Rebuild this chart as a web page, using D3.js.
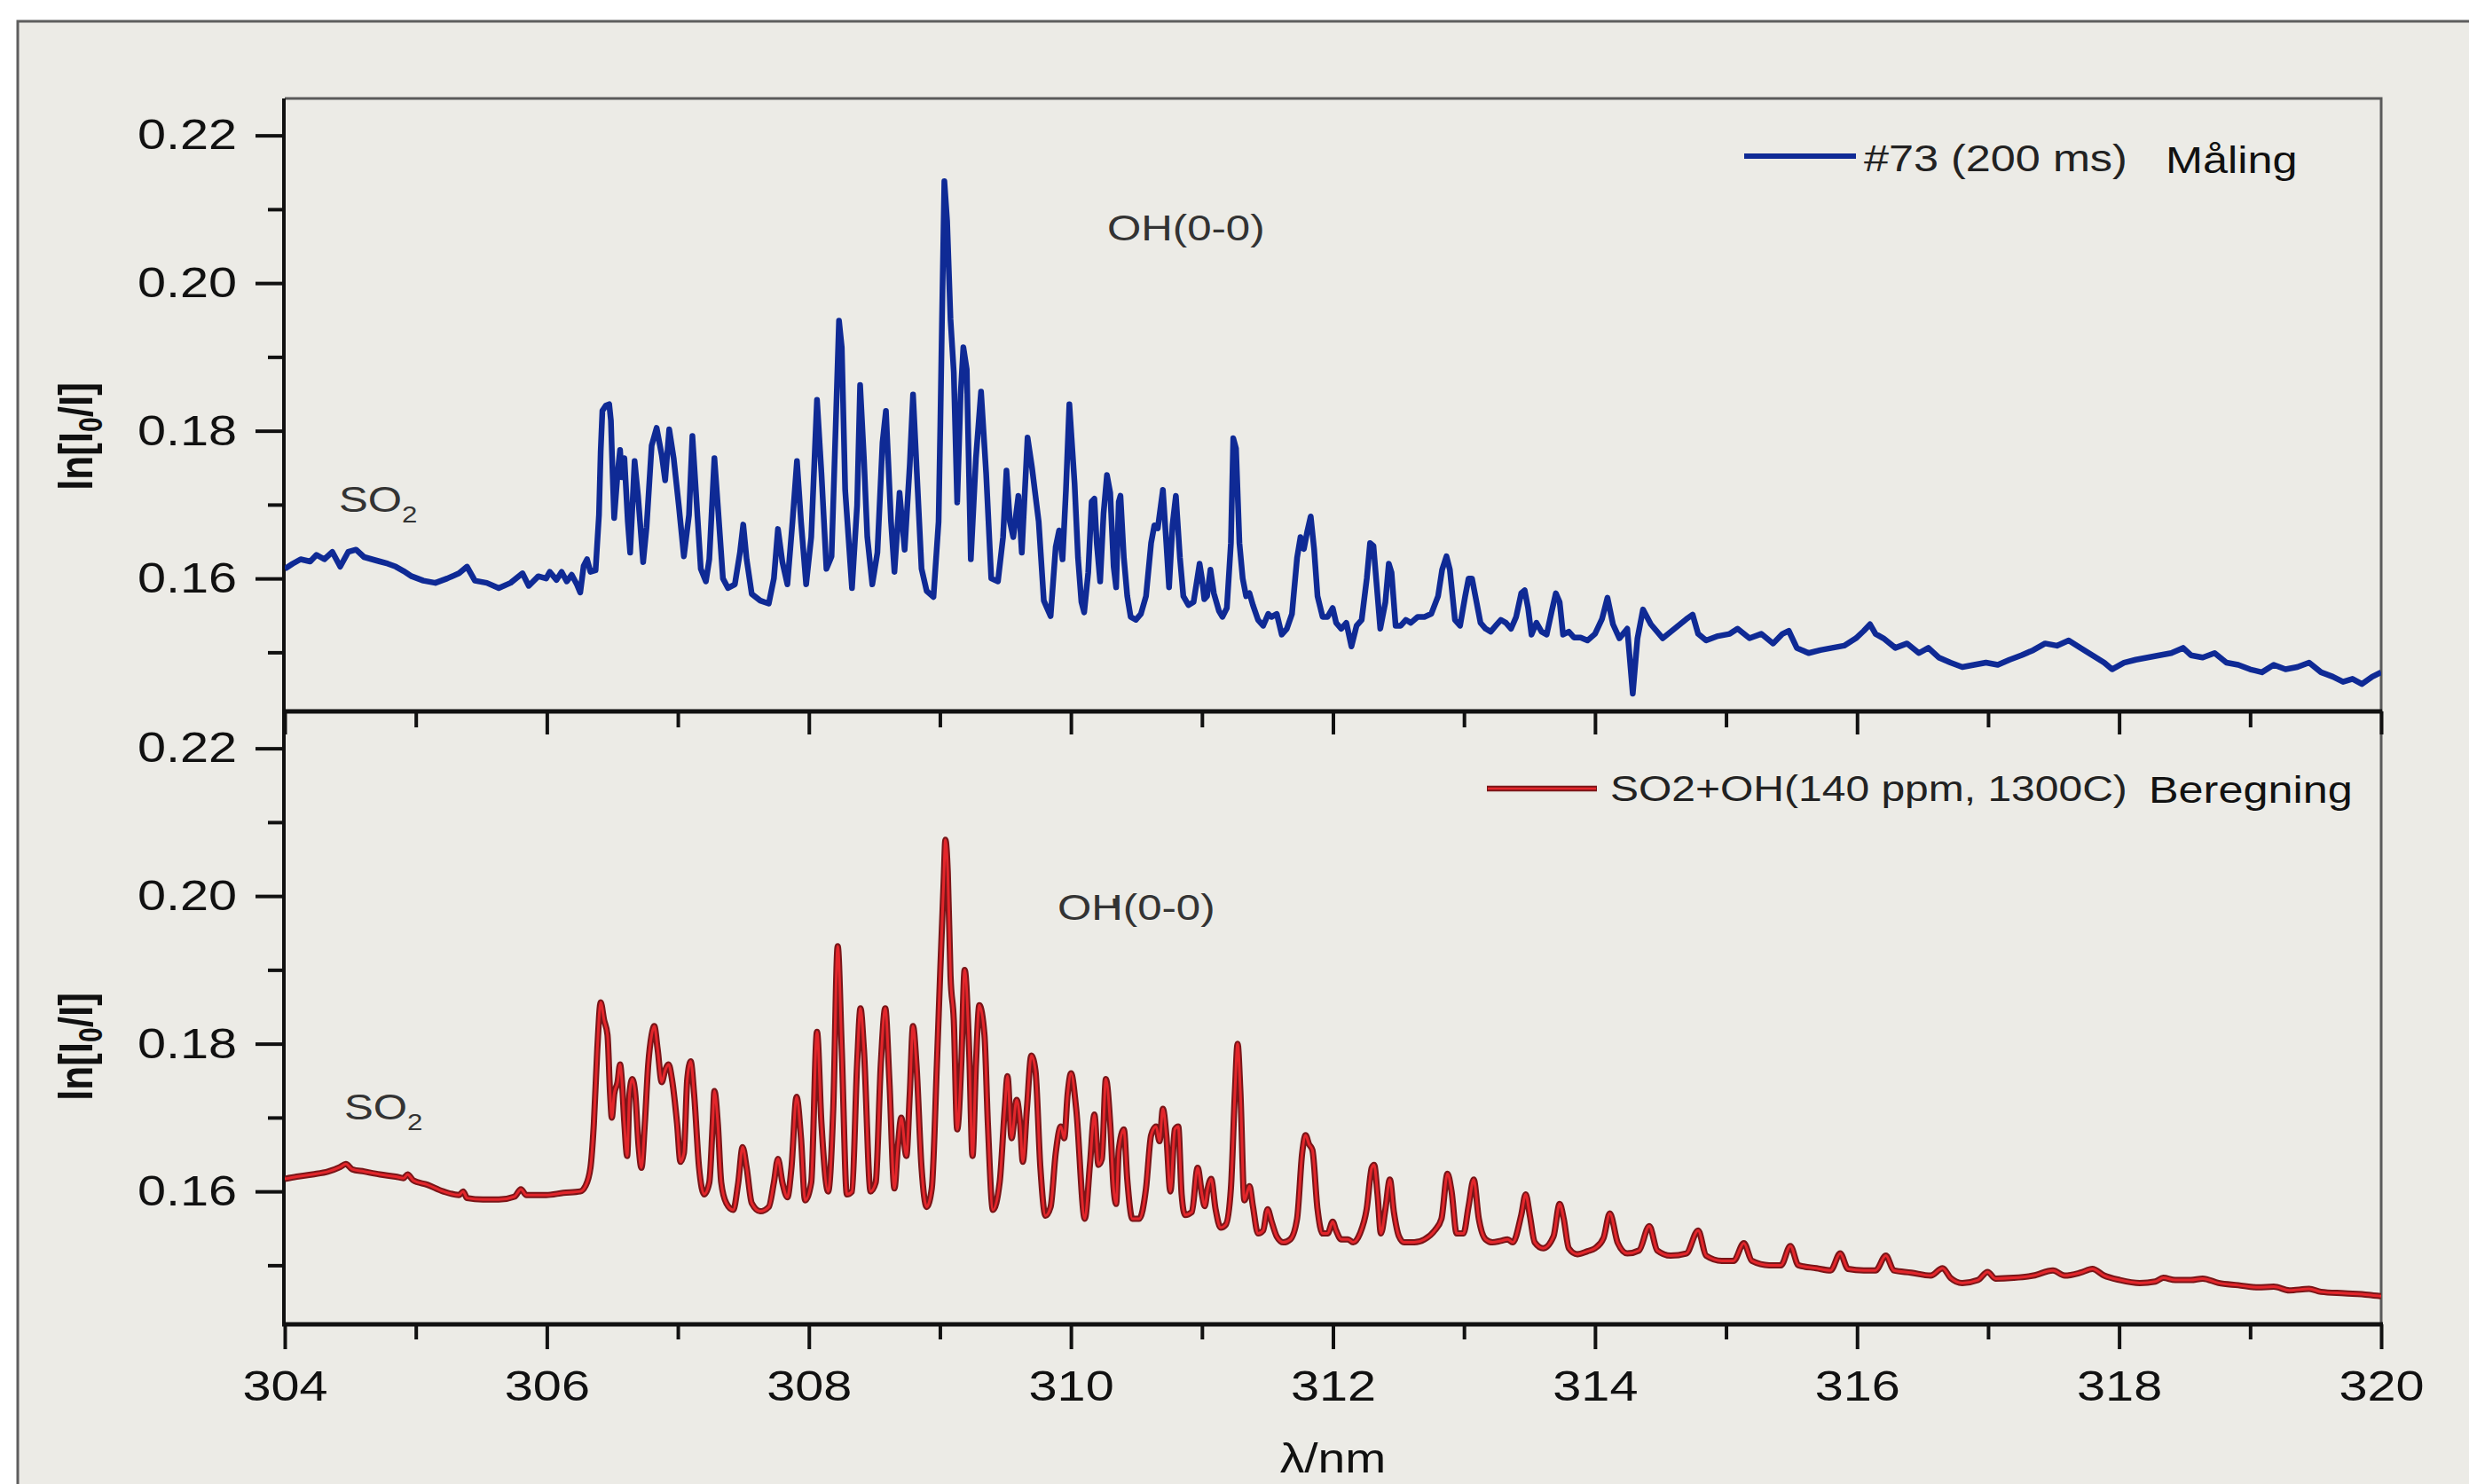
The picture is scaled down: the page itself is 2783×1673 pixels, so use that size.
<!DOCTYPE html>
<html><head><meta charset="utf-8">
<script src="https://cdn.jsdelivr.net/npm/d3@7"></script>
<style>
html,body{margin:0;padding:0;background:#fff;}
svg{display:block;}
text{font-family:"Liberation Sans",Arial,Helvetica,sans-serif;}
</style>
</head><body>
<svg id="chart" width="2783" height="1673"></svg>
<script>
// ---------- DATA ----------
const xMajorTicks = [304,306,308,310,312,314,316,318,320];
const xMinorTicks = [305,307,309,311,313,315,317,319];
const yMajorTicks = [0.16,0.18,0.20,0.22];
const yMinorTicks = [0.15,0.17,0.19,0.21];
const xDomain = [304,320];
const yDomain = [0.142,0.225];

const measuredLabel = "#73 (200 ms)";
const measuredTag = "Måling";
const calculatedLabel = "SO2+OH(140 ppm, 1300C)";
const calculatedTag = "Beregning";
const xTitle = "λ/nm";

// measured spectrum [wavelength nm, ln(I0/I)]
const measuredSeries = [
[304.000,0.1613],[304.060,0.1620],[304.121,0.1626],[304.194,0.1623],[304.242,0.1632],[304.302,0.1626],[304.363,0.1636],[304.423,0.1616],[304.484,0.1636],[304.544,0.1639],[304.605,0.1629],[304.665,0.1626],[304.726,0.1623],[304.786,0.1620],[304.847,0.1616],[304.907,0.1610],[304.968,0.1603],[305.058,0.1597],[305.149,0.1594],[305.240,0.1600],[305.330,0.1607],[305.391,0.1616],[305.451,0.1597],[305.542,0.1594],[305.633,0.1587],[305.723,0.1594],[305.814,0.1607],[305.862,0.1590],[305.935,0.1603],[305.995,0.1600],
[306.022,0.1609],[306.074,0.1598],[306.113,0.1609],[306.152,0.1596],[306.190,0.1605],[306.229,0.1592],[306.255,0.1581],[306.281,0.1617],[306.307,0.1626],[306.333,0.1609],[306.372,0.1611],[306.398,0.1686],[306.411,0.1772],[306.424,0.1827],[306.450,0.1834],[306.476,0.1836],[306.489,0.1814],[306.502,0.1742],[306.514,0.1682],[306.540,0.1742],[306.559,0.1774],[306.572,0.1737],[306.592,0.1763],[306.618,0.1677],[306.636,0.1635],[306.670,0.1759],[306.696,0.1712],[306.735,0.1622],[306.761,0.1669],[306.800,0.1780],[306.838,0.1804],[306.877,0.1767],[306.903,0.1733],[306.934,0.1802],[306.968,0.1763],[307.007,0.1699],[307.046,0.1630],[307.085,0.1686],[307.111,0.1793],[307.137,0.1720],[307.175,0.1613],[307.214,0.1596],[307.240,0.1626],[307.279,0.1763],[307.305,0.1699],[307.344,0.1600],[307.383,0.1587],[307.435,0.1592],[307.474,0.1635],[307.499,0.1673],[307.525,0.1626],[307.564,0.1579],[307.629,0.1570],[307.694,0.1566],[307.733,0.1600],[307.764,0.1667],[307.798,0.1622],[307.836,0.1592],[307.875,0.1677],[307.909,0.1759],[307.940,0.1677],[307.979,0.1592],[308.018,0.1656],[308.062,0.1842],[308.096,0.1742],[308.134,0.1613],[308.173,0.1630],[308.194,0.1746],[308.230,0.1949],[308.251,0.1913],[308.277,0.1720],[308.329,0.1587],[308.368,0.1699],[308.391,0.1862],[308.420,0.1763],[308.446,0.1656],[308.484,0.1592],[308.523,0.1635],[308.562,0.1784],[308.588,0.1827],[308.627,0.1677],[308.653,0.1609],[308.679,0.1677],[308.692,0.1716],[308.731,0.1639],[308.770,0.1754],[308.795,0.1849],[308.821,0.1754],[308.860,0.1613],[308.899,0.1583],[308.951,0.1575],[308.990,0.1677],[309.003,0.1806],[309.016,0.1951],[309.034,0.2138],[309.055,0.2084],[309.081,0.1951],[309.106,0.1879],[309.132,0.1703],[309.158,0.1849],[309.179,0.1913],[309.205,0.1883],[309.236,0.1626],[309.275,0.1763],[309.314,0.1853],[309.353,0.1742],[309.392,0.1600],[309.443,0.1596],[309.482,0.1656],[309.508,0.1746],[309.534,0.1677],[309.560,0.1656],[309.599,0.1712],[309.625,0.1635],[309.669,0.1791],[309.703,0.1750],[309.754,0.1677],[309.793,0.1570],[309.845,0.1549],[309.884,0.1643],[309.910,0.1665],[309.936,0.1626],[309.962,0.1720],[309.988,0.1836],
[310.028,0.1728],[310.054,0.1628],[310.080,0.1568],[310.101,0.1554],[310.132,0.1608],[310.158,0.1704],[310.179,0.1708],[310.197,0.1648],[310.223,0.1596],[310.249,0.1688],[310.275,0.1740],[310.300,0.1716],[310.326,0.1616],[310.345,0.1588],[310.365,0.1704],[310.378,0.1712],[310.404,0.1628],[310.430,0.1576],[310.456,0.1548],[310.495,0.1544],[310.534,0.1552],[310.573,0.1576],[310.612,0.1648],[310.637,0.1672],[310.663,0.1668],[310.702,0.1720],[310.728,0.1648],[310.749,0.1588],[310.775,0.1672],[310.801,0.1712],[310.832,0.1628],[310.858,0.1576],[310.897,0.1564],[310.936,0.1568],[310.961,0.1596],[310.982,0.1620],[311.000,0.1600],[311.018,0.1572],[311.039,0.1576],[311.065,0.1612],[311.091,0.1580],[311.130,0.1556],[311.156,0.1548],[311.190,0.1560],[311.221,0.1648],[311.239,0.1790],[311.260,0.1776],[311.286,0.1648],[311.311,0.1600],[311.337,0.1576],[311.363,0.1580],[311.389,0.1564],[311.428,0.1544],[311.467,0.1536],[311.506,0.1552],[311.532,0.1548],[311.571,0.1552],[311.609,0.1524],[311.648,0.1532],[311.687,0.1552],[311.726,0.1628],[311.752,0.1656],[311.778,0.1640],[311.804,0.1664],[311.830,0.1684],[311.856,0.1640],[311.882,0.1576],[311.921,0.1548],[311.959,0.1548],[311.998,0.1560],[312.024,0.1540],[312.063,0.1532],[312.102,0.1540],[312.141,0.1508],[312.180,0.1536],[312.219,0.1544],[312.258,0.1600],[312.283,0.1648],[312.309,0.1644],[312.335,0.1588],[312.361,0.1532],[312.400,0.1568],[312.426,0.1620],[312.447,0.1608],[312.478,0.1536],[312.517,0.1536],[312.556,0.1544],[312.594,0.1540],[312.646,0.1548],[312.698,0.1548],[312.750,0.1552],[312.802,0.1576],[312.833,0.1612],[312.866,0.1630],[312.892,0.1612],[312.931,0.1544],[312.970,0.1536],[313.009,0.1576],[313.035,0.1600],[313.061,0.1600],[313.087,0.1576],[313.126,0.1540],[313.165,0.1532],[313.204,0.1528],[313.242,0.1536],[313.281,0.1544],[313.320,0.1540],[313.359,0.1532],[313.398,0.1548],[313.437,0.1580],[313.463,0.1584],[313.489,0.1560],[313.515,0.1524],[313.553,0.1540],[313.592,0.1528],[313.631,0.1524],[313.670,0.1556],[313.701,0.1580],[313.730,0.1568],[313.756,0.1524],[313.800,0.1528],[313.839,0.1520],[313.890,0.1520],[313.942,0.1516],
[314.000,0.1525],[314.053,0.1545],[314.095,0.1574],[314.137,0.1538],[314.186,0.1519],[314.246,0.1532],[314.288,0.1444],[314.324,0.1519],[314.366,0.1558],[314.426,0.1538],[314.517,0.1519],[314.607,0.1532],[314.697,0.1545],[314.745,0.1551],[314.787,0.1525],[314.848,0.1516],[314.938,0.1522],[315.028,0.1525],[315.088,0.1532],[315.179,0.1519],[315.269,0.1525],[315.359,0.1512],[315.431,0.1525],[315.479,0.1529],[315.540,0.1506],[315.630,0.1499],[315.720,0.1503],[315.810,0.1506],[315.901,0.1509],[315.991,0.1519],[316.051,0.1529],[316.099,0.1538],[316.141,0.1525],[316.201,0.1519],[316.292,0.1506],[316.382,0.1512],[316.472,0.1499],[316.544,0.1506],[316.623,0.1493],[316.713,0.1486],[316.803,0.1480],[316.893,0.1483],[316.984,0.1486],[317.074,0.1483],[317.164,0.1490],[317.254,0.1496],[317.345,0.1503],[317.435,0.1512],[317.525,0.1509],[317.615,0.1516],[317.706,0.1506],[317.796,0.1496],[317.886,0.1486],[317.946,0.1477],[318.037,0.1486],[318.127,0.1490],[318.217,0.1493],[318.307,0.1496],[318.398,0.1499],[318.488,0.1506],[318.548,0.1496],[318.638,0.1493],[318.729,0.1499],[318.819,0.1486],[318.909,0.1483],[318.999,0.1477],[319.090,0.1473],[319.180,0.1483],[319.270,0.1477],[319.360,0.1480],[319.450,0.1486],[319.541,0.1473],[319.631,0.1467],[319.709,0.1460],[319.781,0.1464],[319.853,0.1457],[319.932,0.1467],[320.000,0.1473]
];

// calculated spectrum [wavelength nm, ln(I0/I)]
const calculatedSeries = [
[304.000,0.1617],[304.091,0.1620],[304.212,0.1623],[304.333,0.1627],[304.423,0.1633],[304.466,0.1637],[304.514,0.1630],[304.605,0.1627],[304.726,0.1623],[304.847,0.1620],[304.907,0.1618],[304.937,0.1623],[304.980,0.1615],[305.088,0.1609],[305.209,0.1600],[305.330,0.1595],[305.361,0.1600],[305.391,0.1591],[305.512,0.1589],[305.633,0.1589],[305.754,0.1593],[305.802,0.1603],[305.844,0.1595],[305.995,0.1595],
[306.126,0.1598],[306.255,0.1600],[306.294,0.1607],[306.333,0.1632],[306.359,0.1692],[306.385,0.1792],[306.411,0.1856],[306.437,0.1832],[306.463,0.1812],[306.483,0.1732],[306.496,0.1700],[306.514,0.1732],[306.540,0.1748],[306.559,0.1772],[306.572,0.1752],[306.592,0.1692],[306.613,0.1648],[306.631,0.1732],[306.652,0.1752],[306.675,0.1732],[306.701,0.1660],[306.722,0.1632],[306.748,0.1692],[306.774,0.1772],[306.800,0.1812],[306.820,0.1824],[306.846,0.1792],[306.877,0.1748],[306.903,0.1764],[306.929,0.1772],[306.955,0.1752],[306.994,0.1692],[307.020,0.1640],[307.046,0.1652],[307.072,0.1752],[307.098,0.1776],[307.124,0.1732],[307.162,0.1632],[307.201,0.1596],[307.240,0.1612],[307.266,0.1692],[307.279,0.1736],[307.305,0.1692],[307.331,0.1612],[307.370,0.1584],[307.422,0.1575],[307.461,0.1612],[307.494,0.1660],[307.525,0.1632],[307.564,0.1584],[307.629,0.1573],[307.694,0.1579],[307.733,0.1612],[307.764,0.1644],[307.798,0.1612],[307.836,0.1592],[307.867,0.1632],[307.906,0.1728],[307.940,0.1672],[307.971,0.1588],[308.018,0.1612],[308.062,0.1816],[308.096,0.1692],[308.147,0.1600],[308.186,0.1712],[308.220,0.1932],[308.251,0.1792],[308.290,0.1596],[308.329,0.1600],[308.368,0.1772],[308.394,0.1848],[308.420,0.1792],[308.471,0.1600],[308.510,0.1612],[308.549,0.1772],[308.583,0.1848],[308.614,0.1752],[308.653,0.1604],[308.679,0.1660],[308.705,0.1700],[308.744,0.1648],[308.770,0.1732],[308.795,0.1824],[308.821,0.1772],[308.860,0.1632],[308.899,0.1579],[308.938,0.1604],[308.977,0.1772],[309.003,0.1900],[309.029,0.2020],[309.042,0.2076],[309.060,0.2032],[309.081,0.1892],[309.106,0.1832],[309.132,0.1684],[309.163,0.1772],[309.189,0.1900],[309.223,0.1792],[309.249,0.1648],[309.275,0.1772],[309.301,0.1852],[309.340,0.1812],[309.366,0.1692],[309.405,0.1575],[309.456,0.1612],[309.495,0.1712],[309.516,0.1756],[309.547,0.1672],[309.586,0.1724],[309.612,0.1692],[309.633,0.1640],[309.664,0.1712],[309.698,0.1784],[309.729,0.1764],[309.767,0.1632],[309.806,0.1567],[309.845,0.1579],[309.884,0.1652],[309.923,0.1688],[309.949,0.1672],[309.975,0.1732],[310.001,0.1760],[310.040,0.1712],
[310.106,0.1563],[310.145,0.1636],[310.179,0.1704],[310.210,0.1636],[310.236,0.1644],[310.267,0.1752],[310.300,0.1692],[310.326,0.1604],[310.345,0.1583],[310.365,0.1656],[310.404,0.1684],[310.430,0.1616],[310.469,0.1563],[310.521,0.1563],[310.573,0.1604],[310.612,0.1676],[310.650,0.1688],[310.676,0.1668],[310.702,0.1712],[310.728,0.1676],[310.759,0.1600],[310.793,0.1684],[310.819,0.1688],[310.845,0.1596],[310.871,0.1568],[310.923,0.1572],[310.967,0.1632],[311.000,0.1596],[311.021,0.1580],[311.044,0.1604],[311.070,0.1617],[311.104,0.1576],[311.143,0.1551],[311.182,0.1555],[311.221,0.1604],[311.252,0.1736],[311.272,0.1800],[311.293,0.1736],[311.324,0.1588],[311.363,0.1607],[311.389,0.1580],[311.428,0.1543],[311.467,0.1547],[311.501,0.1576],[311.532,0.1559],[311.571,0.1539],[311.622,0.1531],[311.674,0.1535],[311.726,0.1563],[311.765,0.1652],[311.791,0.1676],[311.817,0.1664],[311.843,0.1656],[311.882,0.1576],[311.921,0.1543],[311.959,0.1543],[311.998,0.1559],[312.024,0.1547],[312.063,0.1535],[312.115,0.1535],[312.154,0.1531],[312.206,0.1543],[312.257,0.1576],[312.296,0.1632],[312.314,0.1636],[312.340,0.1596],[312.366,0.1543],[312.400,0.1576],[312.434,0.1616],[312.465,0.1572],[312.504,0.1539],[312.543,0.1531],[312.620,0.1531],[312.698,0.1535],[312.776,0.1547],[312.828,0.1563],[312.874,0.1624],[312.905,0.1600],[312.944,0.1543],[312.996,0.1543],[313.035,0.1580],[313.074,0.1616],[313.113,0.1563],[313.165,0.1535],[313.217,0.1531],[313.281,0.1533],[313.333,0.1535],[313.372,0.1531],[313.437,0.1568],[313.471,0.1596],[313.502,0.1568],[313.540,0.1531],[313.605,0.1523],[313.683,0.1539],[313.730,0.1583],[313.761,0.1563],[313.800,0.1523],[313.864,0.1515],[313.942,0.1519],
[314.000,0.1523],[314.065,0.1537],[314.113,0.1570],[314.174,0.1530],[314.246,0.1516],[314.336,0.1520],[314.414,0.1553],[314.475,0.1520],[314.577,0.1513],[314.697,0.1516],[314.787,0.1547],[314.848,0.1513],[314.968,0.1506],[315.058,0.1506],[315.136,0.1530],[315.197,0.1506],[315.329,0.1500],[315.419,0.1500],[315.491,0.1526],[315.552,0.1500],[315.690,0.1496],[315.798,0.1493],[315.871,0.1516],[315.931,0.1495],[316.051,0.1493],[316.141,0.1493],[316.220,0.1513],[316.280,0.1493],[316.412,0.1490],[316.562,0.1486],[316.653,0.1496],[316.713,0.1483],[316.803,0.1476],[316.923,0.1480],[316.996,0.1491],[317.056,0.1482],[317.194,0.1483],[317.345,0.1486],[317.495,0.1493],[317.585,0.1486],[317.706,0.1490],[317.796,0.1495],[317.886,0.1486],[318.006,0.1480],[318.157,0.1476],[318.277,0.1478],[318.337,0.1483],[318.428,0.1480],[318.548,0.1480],[318.638,0.1482],[318.759,0.1476],[318.909,0.1473],[319.060,0.1470],[319.180,0.1471],[319.300,0.1466],[319.450,0.1468],[319.541,0.1464],[319.721,0.1462],[319.902,0.1460],[320.000,0.1458]
];

// ---------- DRAWING ----------
const W = 2783, H = 1673;
const SX = 1.2;              // horizontal stretch of the original lettering
const FONT_TICK = 48, FONT_NOTE = 41;
const BLUE = "#0f2a95", RED_DARK = "#7a1518", RED = "#e3262b";
const svg = d3.select("#chart");

svg.append("rect").attr("width", W).attr("height", H).attr("fill", "#ffffff");
svg.append("rect").attr("x", 20).attr("y", 24).attr("width", W + 20).attr("height", H + 20)
  .attr("fill", "#ecebe6").attr("stroke", "#5e5e5e").attr("stroke-width", 3);

const plotL = 321, plotR = 2684;
const x = d3.scaleLinear().domain(xDomain).range([plotL, plotR]);
const panels = [
  { top: 111, bottom: 802, data: measuredSeries, curve: d3.curveLinear, kind: "measured" },
  { top: 802, bottom: 1493, data: calculatedSeries, curve: d3.curveMonotoneX, kind: "calc" }
];
panels.forEach(p => { p.y = d3.scaleLinear().domain(yDomain).range([p.bottom, p.top]); });

function stretch(sel) {
  sel.each(function () {
    const t = d3.select(this);
    const ax = +t.attr("x") || 0;
    t.attr("transform", `matrix(${SX},0,0,1,${(1 - SX) * ax},0)`);
  });
}

const defs = svg.append("defs");
panels.forEach((p, i) => {
  defs.append("clipPath").attr("id", "clip" + i).append("rect")
    .attr("x", plotL).attr("y", p.top).attr("width", plotR - plotL).attr("height", p.bottom - p.top);
});

panels.forEach((p, i) => {
  // grey top/right frame
  svg.append("path")
    .attr("d", `M${plotL},${p.top}H${plotR}V${p.bottom}`)
    .attr("fill", "none").attr("stroke", "#5a5a5a").attr("stroke-width", 3);

  // y axis
  const gMaj = svg.append("g").attr("transform", `translate(${plotL - 1},0)`)
    .call(d3.axisLeft(p.y).tickValues(yMajorTicks).tickSize(32).tickPadding(21).tickFormat(d3.format(".2f")));
  const gMin = svg.append("g").attr("transform", `translate(${plotL - 1},0)`)
    .call(d3.axisLeft(p.y).tickValues(yMinorTicks).tickSize(18).tickFormat(""));
  [gMaj, gMin].forEach(g => {
    g.select(".domain").remove();
    g.selectAll("line").attr("stroke", "#111").attr("stroke-width", 4);
  });
  gMaj.selectAll("text").attr("font-size", FONT_TICK).attr("fill", "#111")
    .attr("font-family", "'Liberation Sans', Arial, sans-serif").call(stretch);

  // y axis line
  svg.append("line").attr("x1", plotL - 1).attr("x2", plotL - 1).attr("y1", p.top).attr("y2", p.bottom + 2)
    .attr("stroke", "#111").attr("stroke-width", 4);

  // data line
  const line = d3.line().x(d => x(d[0])).y(d => p.y(d[1])).curve(p.curve);
  const g = svg.append("g").attr("clip-path", `url(#clip${i})`);
  if (p.kind === "measured") {
    g.append("path").datum(p.data).attr("d", line).attr("fill", "none")
      .attr("stroke", BLUE).attr("stroke-width", 6.5).attr("stroke-linejoin", "round");
  } else {
    g.append("path").datum(p.data).attr("d", line).attr("fill", "none")
      .attr("stroke", RED_DARK).attr("stroke-width", 7).attr("stroke-linejoin", "round");
    g.append("path").datum(p.data).attr("d", line).attr("fill", "none")
      .attr("stroke", RED).attr("stroke-width", 3).attr("stroke-linejoin", "round");
  }
});

// shared middle axis with ticks pointing into the lower panel
const mid = panels[1].top;
const gMidMaj = svg.append("g").attr("transform", `translate(0,${mid})`)
  .call(d3.axisBottom(x).tickValues(xMajorTicks).tickSize(26).tickFormat(""));
const gMidMin = svg.append("g").attr("transform", `translate(0,${mid})`)
  .call(d3.axisBottom(x).tickValues(xMinorTicks).tickSize(18).tickFormat(""));
[gMidMaj, gMidMin].forEach(g => {
  g.select(".domain").remove();
  g.selectAll("line").attr("stroke", "#111").attr("stroke-width", 4);
});
svg.append("line").attr("x1", plotL - 3).attr("x2", plotR + 1).attr("y1", mid).attr("y2", mid)
  .attr("stroke", "#111").attr("stroke-width", 5);

// bottom axis
const base = panels[1].bottom;
const gBMaj = svg.append("g").attr("transform", `translate(0,${base})`)
  .call(d3.axisBottom(x).tickValues(xMajorTicks).tickSize(28).tickPadding(24).tickFormat(d3.format("d")));
const gBMin = svg.append("g").attr("transform", `translate(0,${base})`)
  .call(d3.axisBottom(x).tickValues(xMinorTicks).tickSize(17).tickFormat(""));
[gBMaj, gBMin].forEach(g => {
  g.select(".domain").remove();
  g.selectAll("line").attr("stroke", "#111").attr("stroke-width", 4);
});
gBMaj.selectAll("text").attr("font-size", FONT_TICK).attr("fill", "#111")
  .attr("font-family", "'Liberation Sans', Arial, sans-serif").call(stretch);
svg.append("line").attr("x1", plotL - 3).attr("x2", plotR + 2).attr("y1", base).attr("y2", base)
  .attr("stroke", "#111").attr("stroke-width", 5);

// x title
svg.append("text").attr("x", (plotL + plotR) / 2).attr("y", 1660).attr("text-anchor", "middle")
  .attr("font-size", 46).attr("fill", "#111").text(xTitle).call(stretch);

// y titles
const yTitleCenters = [492, 1180];
yTitleCenters.forEach(cy => {
  const t = svg.append("text")
    .attr("transform", `translate(104,${cy}) rotate(-90) scale(1,1.2)`)
    .attr("text-anchor", "middle").attr("font-size", 44).attr("font-weight", "bold").attr("fill", "#111");
  t.append("tspan").text("ln[I");
  t.append("tspan").attr("font-size", 30).attr("dy", 9).text("0");
  t.append("tspan").attr("dy", -9).text("/I]");
});

// annotations
function so2(xp, yp) {
  const t = svg.append("text").attr("x", xp).attr("y", yp).attr("font-size", FONT_NOTE).attr("fill", "#333");
  t.append("tspan").text("SO");
  t.append("tspan").attr("font-size", 26).attr("dy", 12).text("2");
  t.call(stretch);
}
so2(382, 577);
so2(388, 1262);
svg.append("text").attr("x", 1248).attr("y", 271).attr("font-size", FONT_NOTE).attr("fill", "#333")
  .text("OH(0-0)").call(stretch);
svg.append("text").attr("x", 1192).attr("y", 1037).attr("font-size", FONT_NOTE).attr("fill", "#333")
  .text("OH(0-0)").call(stretch);
svg.append("text").attr("x", 1252).attr("y", 1040).attr("font-size", 38).attr("fill", "#333")
  .text("'").call(stretch);

// legends
svg.append("line").attr("x1", 1966).attr("x2", 2092).attr("y1", 176).attr("y2", 176)
  .attr("stroke", BLUE).attr("stroke-width", 6);
svg.append("text").attr("x", 2101).attr("y", 193).attr("font-size", 42).attr("fill", "#222")
  .text(measuredLabel).call(stretch);
svg.append("text").attr("x", 2441).attr("y", 195).attr("font-size", 42).attr("fill", "#111")
  .text(measuredTag).call(stretch);

svg.append("line").attr("x1", 1676).attr("x2", 1800).attr("y1", 889).attr("y2", 889)
  .attr("stroke", RED_DARK).attr("stroke-width", 6.5);
svg.append("line").attr("x1", 1677).attr("x2", 1799).attr("y1", 889).attr("y2", 889)
  .attr("stroke", RED).attr("stroke-width", 2.6);
svg.append("text").attr("x", 1815).attr("y", 903).attr("font-size", 40).attr("fill", "#222")
  .text(calculatedLabel).call(stretch);
svg.append("text").attr("x", 2422).attr("y", 905).attr("font-size", 42).attr("fill", "#111")
  .text(calculatedTag).call(stretch);
</script>
</body></html>
